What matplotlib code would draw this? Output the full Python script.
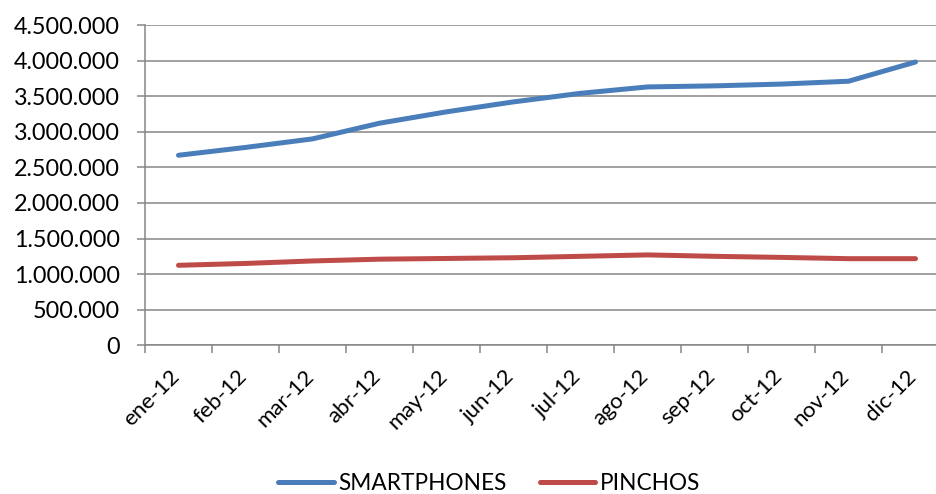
import numpy as np
import matplotlib
matplotlib.use("Agg")
import matplotlib.pyplot as plt
import matplotlib.transforms as mtransforms
from matplotlib.ticker import FuncFormatter, FixedLocator

# monthly values
meses = ["ene-12", "feb-12", "mar-12", "abr-12", "may-12", "jun-12",
         "jul-12", "ago-12", "sep-12", "oct-12", "nov-12", "dic-12"]
smartphones = [2670000, 2780000, 2900000, 3120000, 3280000, 3420000,
               3540000, 3630000, 3645000, 3670000, 3710000, 3980000]
pinchos = [1124000, 1150000, 1185000, 1210000, 1220000, 1230000,
           1250000, 1270000, 1250000, 1235000, 1217000, 1217000]

plt.rcParams['font.family'] = ['Lato', 'DejaVu Sans']

fig = plt.figure(figsize=(9.36, 4.94), dpi=100)
ax = fig.add_axes([145 / 936, 1 - 345.3 / 494, 1 - 145 / 936, (345.3 - 25) / 494])

x = np.arange(len(meses))
ax.plot(x, smartphones, color='#4A7EBB', lw=3.6, solid_capstyle='round', label='SMARTPHONES', zorder=3)
ax.plot(x, pinchos, color='#BE4B48', lw=3.6, solid_capstyle='round', label='PINCHOS', zorder=3)

# category axis runs past the right edge of the picture, as in the reference
ax.set_xlim(-0.5, -0.5 + (936 - 145) / 67.0)
ax.set_ylim(0, 4500000)

ax.set_yticks(np.arange(0, 4500001, 500000))
ax.yaxis.set_major_formatter(FuncFormatter(lambda v, p: f"{int(v):,}".replace(",", ".")))
ax.grid(axis='y', color='#868686', lw=1.1)
ax.set_axisbelow(True)

ax.set_xticks(x)
ax.set_xticklabels(meses, rotation=45, ha='right', va='top')
ax.xaxis.set_minor_locator(FixedLocator(np.arange(-0.5, 12, 1)))
ax.tick_params(axis='x', which='major', length=0, pad=15, labelsize=16)
ax.tick_params(axis='x', which='minor', length=6, width=1.1, color='#868686')
ax.tick_params(axis='y', length=6, width=1.1, color='#868686', pad=12, labelsize=16.8)

# nudge the slanted month labels a little to the right
shift = mtransforms.ScaledTranslation(5 / 100, 0, fig.dpi_scale_trans)
for lab in ax.get_xticklabels():
    lab.set_transform(lab.get_transform() + shift)

for s in ['top', 'right']:
    ax.spines[s].set_visible(False)
for s in ['left', 'bottom']:
    ax.spines[s].set_color('#868686')
    ax.spines[s].set_linewidth(1.1)

fig.legend(loc='center', bbox_to_anchor=(0.5226, 1 - 483 / 494), ncol=2, frameon=False,
           fontsize=16.3, handlelength=2.45, columnspacing=1.45, handletextpad=0.2)

fig.savefig("out.png", dpi=100)
